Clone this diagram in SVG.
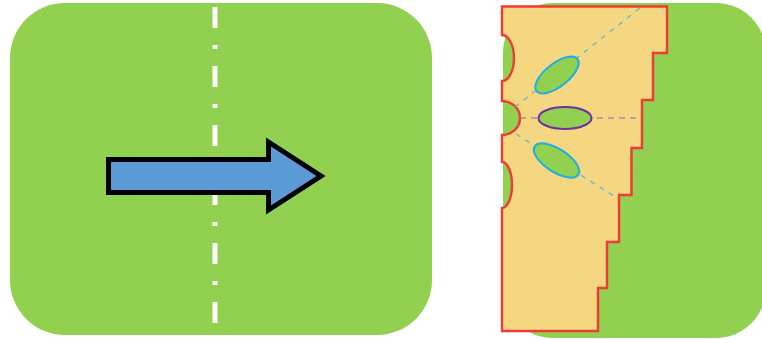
<svg xmlns="http://www.w3.org/2000/svg" width="762" height="339" viewBox="0 0 762 339">
  <style>
    .panel { fill: #92D050; }
    .axis { stroke: #FFFFFF; stroke-width: 5; fill: none; stroke-dasharray: 21 17 4 17; }
    .arrow { fill: #5B9BD5; stroke: #000000; stroke-width: 5; stroke-linejoin: miter; }
    .plate { fill: #F4D780; stroke: #EE3B36; stroke-width: 2.4; stroke-linejoin: miter; }
    .hole-blue { fill: #92D050; stroke: #1AAFE6; stroke-width: 2; }
    .hole-purple { fill: #92D050; stroke: #7030A0; stroke-width: 2; }
    .guide-blue { stroke: #4FB8D8; stroke-width: 1.2; stroke-dasharray: 5 6; fill: none; }
    .guide-purple { stroke: #9A62B0; stroke-width: 1.2; stroke-dasharray: 6 5; fill: none; }
  </style>
  <rect width="762" height="339" fill="#FFFFFF"/>
  <g id="left-panel">
    <rect class="panel" x="10" y="3" width="422" height="332" rx="55" ry="55"/>
    <line class="axis" x1="215" y1="7" x2="215" y2="323"/>
  </g>
  <g id="arrow">
    <polygon class="arrow" points="108.5,159.5 268.5,159.5 268.5,142 321,176 268.5,210 268.5,192.5 108.5,192.5"/>
  </g>
  <g id="right-panel">
    <rect class="panel" x="503" y="3" width="263" height="335" rx="50" ry="50"/>
  </g>
  <g id="plate">
    <path class="plate" d="M502,6.5 H667 V53 H653 V100 H642 V148 H631.5 V195 H619 V242 H607 V288 H598 V331 H502 V208 A10,23 0 0 0 502,162 V135 A18,17 0 0 0 502,101 V81 A12,23 0 0 0 502,35 Z"/>
  </g>
  <g id="connectors">
    <line class="guide-blue" x1="515" y1="107" x2="640" y2="8"/>
    <line class="guide-blue" x1="516" y1="134" x2="617" y2="198"/>
    <line class="guide-purple" x1="520" y1="118" x2="638" y2="118"/>
  </g>
  <g id="hole-upper">
    <ellipse class="hole-blue" cx="557" cy="75" rx="26" ry="11.5" transform="rotate(-38 557 75)"/>
  </g>
  <g id="hole-middle">
    <ellipse class="hole-purple" cx="565" cy="118" rx="26.5" ry="11"/>
  </g>
  <g id="hole-lower">
    <ellipse class="hole-blue" cx="556.5" cy="160.5" rx="26" ry="11.5" transform="rotate(33 556.5 160.5)"/>
  </g>
</svg>
